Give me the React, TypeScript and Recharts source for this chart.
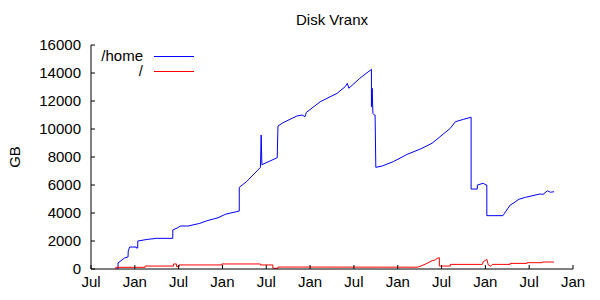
import React from 'react';
import { LineChart, Line, XAxis, YAxis } from 'recharts';

// x = months since the first July on the axis
const TICK_MONTHS = [0, 6, 12, 18, 24, 30, 36, 42, 48, 54, 60, 66];
const TICK_LABELS = ['Jul', 'Jan', 'Jul', 'Jan', 'Jul', 'Jan', 'Jul', 'Jan', 'Jul', 'Jan', 'Jul', 'Jan'];
const GB_TICKS = [0, 2000, 4000, 6000, 8000, 10000, 12000, 14000, 16000];

const HOME_MONTHS = [
  3.7, 3.7, 4.6, 5.07, 5.1, 5.3, 6.2, 6.2, 6.4, 6.4, 7.8, 9.0, 11.2, 11.2, 11.9, 12.2, 13.3, 14.9,
  15.9, 17.4, 18.4, 20.3, 20.3, 21.3, 23.2, 23.3, 23.4, 25.5, 25.6, 26.3, 28.2, 28.9, 29.3, 29.5,
  31.4, 33.7, 34.8, 35.1, 35.3, 36.8, 38.4, 38.4, 38.5, 38.6, 38.8, 38.9, 39.0, 39.9, 41.4, 43.3,
  45.1, 46.7, 47.8, 49.2, 49.9, 51.0, 52.05, 52.05, 52.9, 52.9, 53.7, 54.1, 54.2, 54.2, 56.4, 57.4,
  57.8, 58.6, 59.5, 61.5, 61.9, 62.5, 62.9, 63.4,
];
const HOME_GB = [
  0, 430, 790, 860, 1290, 1570, 1570, 1500, 1500, 2000, 2120, 2190, 2190, 2790, 2950, 3070, 3070, 3260,
  3450, 3660, 3910, 4140, 5830, 6240, 7260, 9570, 7450, 7950, 10210, 10450, 10930, 11000, 10880, 11190,
  11950, 12550, 13020, 13260, 12910, 13620, 14260, 11590, 12910, 11120, 11000, 11000, 7260, 7360, 7670, 8190,
  8570, 8980, 9450, 10050, 10520, 10690, 10840, 5710, 5710, 6000, 6120, 6000, 6000, 3810, 3810, 4570,
  4690, 4980, 5120, 5360, 5330, 5590, 5480, 5520,
];

const ROOT_MONTHS = [
  3.4, 3.4, 7.4, 7.4, 11.3, 11.3, 11.7, 11.7, 12.05, 12.05, 17.9, 17.9, 23.2, 23.2, 24.9, 24.9, 25.6,
  25.6, 44.7, 45.3, 46.0, 46.7, 47.1, 47.4, 47.7, 47.7, 49.2, 49.2, 53.6, 53.7, 54.2, 54.4, 54.7, 55.0,
  57.4, 57.4, 59.7, 59.7, 61.8, 61.8, 63.4,
];
const ROOT_GB = [
  0, 120, 120, 210, 210, 360, 360, 170, 170, 290, 290, 360, 360, 290, 290, 50, 50,
  140, 130, 240, 400, 590, 640, 760, 810, 210, 210, 330, 330, 520, 690, 290, 210, 330,
  330, 400, 400, 450, 450, 500, 500,
];

const homeData = HOME_MONTHS.map((m, i) => ({ month: m, gb: HOME_GB[i] }));
const rootData = ROOT_MONTHS.map((m, i) => ({ month: m, gb: ROOT_GB[i] }));

const FONT = '"Liberation Sans", Arial, sans-serif';
const FONT_SIZE = 15;

const GbLabel = ({ viewBox }: any) => {
  const cy = viewBox.y + viewBox.height / 2;
  return (
    <text x={14} y={cy} transform={`rotate(-90 14 ${cy})`} textAnchor="middle" dominantBaseline="central"
      fill="#000" fontSize={FONT_SIZE} fontFamily={FONT}>GB</text>
  );
};

const keyText: React.CSSProperties = {
  position: 'absolute', right: 457, height: 14, lineHeight: '14px', fontSize: FONT_SIZE, textAlign: 'right',
  whiteSpace: 'nowrap',
};

export default function App() {
  return (
    <div style={{ position: 'absolute', left: 0, top: 0, width: 600, height: 300, background: '#fff', fontFamily: FONT }}>
      <LineChart width={600} height={300} margin={{ top: 45, right: 27, left: 0, bottom: 0 }}>
        <XAxis dataKey="month" type="number" domain={[0, 66]} ticks={TICK_MONTHS}
          tickFormatter={(v: number) => TICK_LABELS[TICK_MONTHS.indexOf(v)]}
          height={31} tickSize={-4} tickMargin={11} stroke="#000"
          tick={{ fill: '#000', fontSize: FONT_SIZE, fontFamily: FONT }} />
        <XAxis xAxisId="top" orientation="top" dataKey="month" type="number" domain={[0, 66]} ticks={TICK_MONTHS}
          height={0} tickSize={-4} tick={false} stroke="#000" />
        <YAxis type="number" domain={[0, 16000]} ticks={GB_TICKS} width={91} tickSize={-4} tickMargin={14}
          stroke="#000" tick={{ fill: '#000', fontSize: FONT_SIZE, fontFamily: FONT }}
          label={{ content: GbLabel }} />
        <YAxis yAxisId="right" orientation="right" type="number" domain={[0, 16000]} ticks={GB_TICKS}
          width={0} tickSize={-4} tick={false} stroke="#000" />
        <Line data={homeData} dataKey="gb" type="linear" stroke="#0000ff" strokeWidth={1} dot={false}
          isAnimationActive={false} />
        <Line data={rootData} dataKey="gb" type="linear" stroke="#ff0000" strokeWidth={1} dot={false}
          isAnimationActive={false} />
      </LineChart>
      <div style={{ position: 'absolute', left: 0, width: 664, top: 11, textAlign: 'center', fontSize: FONT_SIZE }}>
        Disk Vranx
      </div>
      {/* key, top left inside the frame */}
      <div style={{ ...keyText, top: 49 }}>/home</div>
      <div style={{ ...keyText, top: 64 }}>/</div>
      <div style={{ position: 'absolute', left: 154, top: 56, width: 40, height: 1, background: '#0000ff' }} />
      <div style={{ position: 'absolute', left: 154, top: 71, width: 40, height: 1, background: '#ff0000' }} />
    </div>
  );
}
